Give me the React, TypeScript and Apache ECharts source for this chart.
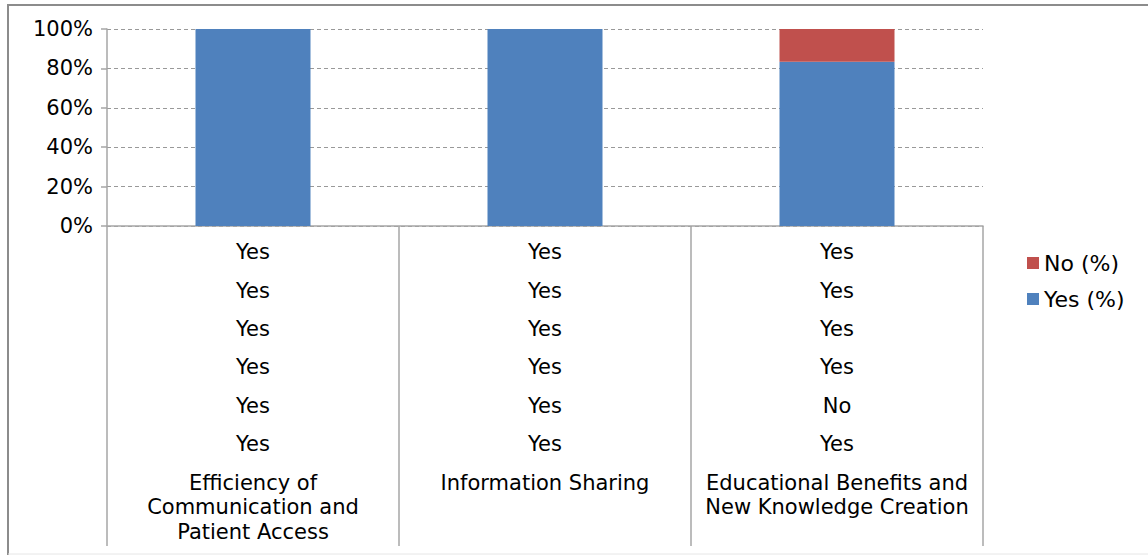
import React, { useEffect, useRef } from "react";
import * as echarts from "echarts";

const categories = [
  "Efficiency of\nCommunication and\nPatient Access",
  "Information Sharing",
  "Educational Benefits and\nNew Knowledge Creation",
];
const yesValues = [100, 100, 83.33];
const noValues = [0, 0, 16.67];
const responseRows = [
  ["Yes", "Yes", "Yes"],
  ["Yes", "Yes", "Yes"],
  ["Yes", "Yes", "Yes"],
  ["Yes", "Yes", "Yes"],
  ["Yes", "Yes", "No"],
  ["Yes", "Yes", "Yes"],
];
const yTicks = [0, 20, 40, 60, 80, 100];

const FONT = "DejaVu Sans";
const GRAY = "#a6a6a6";

export default function App() {
  const ref = useRef<HTMLDivElement>(null);
  useEffect(() => {
    document.body.style.margin = "0";
    const chart = echarts.init(ref.current!, undefined, { renderer: "svg" });
    const rowOffsets = [16, 54.5, 93, 131, 169.5, 208];
    const rowAxes = responseRows.map((row, i) => ({
      type: "category",
      gridIndex: 0,
      position: "bottom",
      offset: rowOffsets[i],
      data: categories,
      axisLine: { show: false },
      axisTick: { show: false },
      splitLine: { show: false },
      axisLabel: {
        interval: 0,
        margin: 0,
        fontFamily: FONT,
        fontSize: 21,
        lineHeight: 20,
        color: "#000",
        formatter: (_v: string, idx: number) => row[idx],
      },
    }));
    chart.setOption({
      animation: false,
      backgroundColor: "#fff",
      grid: { left: 107, right: 165, top: 29, bottom: 329 },
      legend: {
        orient: "vertical",
        left: 1022,
        top: 247,
        itemWidth: 12,
        itemHeight: 12,
        itemGap: 14,
        icon: "rect",
        data: ["No (%)", "Yes (%)"],
        textStyle: { fontFamily: FONT, fontSize: 22, lineHeight: 22, color: "#000" },
      },
      xAxis: [
        {
          type: "category",
          gridIndex: 0,
          position: "bottom",
          data: categories,
          axisLine: { show: true, lineStyle: { color: GRAY, width: 1.5 } },
          axisTick: { show: true, interval: 0, length: 320, lineStyle: { color: GRAY, width: 1.5 } },
          axisLabel: { show: false },
          splitLine: { show: false },
        },
        ...rowAxes,
        {
          type: "category",
          gridIndex: 0,
          position: "bottom",
          offset: 245,
          data: categories,
          axisLine: { show: false },
          axisTick: { show: false },
          splitLine: { show: false },
          axisLabel: {
            interval: 0,
            margin: 0,
            fontFamily: FONT,
            fontSize: 21,
            lineHeight: 24.2,
            color: "#000",
            align: "center",
          },
        },
      ],
      yAxis: {
        type: "value",
        min: yTicks[0],
        max: yTicks[yTicks.length - 1],
        interval: 20,
        axisLine: { show: true, lineStyle: { color: GRAY, width: 1.5 } },
        axisTick: { show: true, length: 6, lineStyle: { color: GRAY, width: 1.5 } },
        axisLabel: {
          formatter: "{value}%",
          fontFamily: FONT,
          fontSize: 21,
          color: "#000",
          margin: 14,
        },
        splitLine: { show: true, lineStyle: { color: "#999", type: [4, 3], width: 1.2 } },
      },
      series: [
        {
          name: "Yes (%)",
          type: "bar",
          stack: "total",
          barWidth: 115,
          data: yesValues,
          itemStyle: { color: "#4F81BD" },
        },
        {
          name: "No (%)",
          type: "bar",
          stack: "total",
          barWidth: 115,
          data: noValues,
          itemStyle: { color: "#C0504D" },
        },
      ],
      graphic: [
        { type: "line", shape: { x1: 7, y1: 5, x2: 1148, y2: 5 }, style: { stroke: "#8c8c8c", lineWidth: 2 } },
        { type: "line", shape: { x1: 8, y1: 5, x2: 8, y2: 555 }, style: { stroke: "#8c8c8c", lineWidth: 2 } },
        { type: "line", shape: { x1: 8, y1: 554, x2: 1148, y2: 554 }, style: { stroke: "#e6e6e6", lineWidth: 1 } },
      ],
    });
    return () => chart.dispose();
  }, []);
  return <div ref={ref} style={{ width: 1148, height: 555 }} />;
}
